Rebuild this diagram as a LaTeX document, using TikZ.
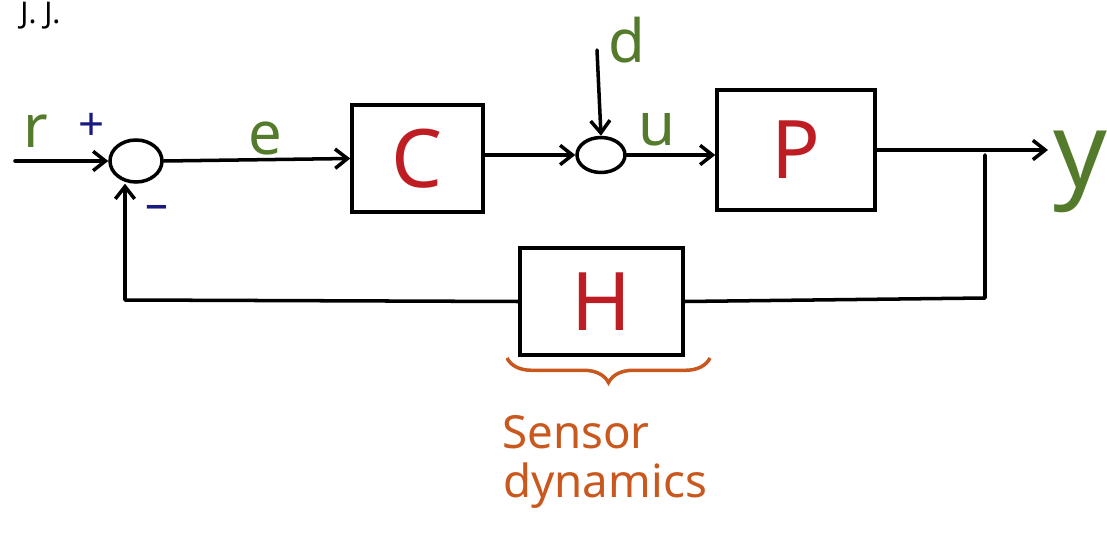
\documentclass[tikz,border=0pt]{standalone}
\usepackage{fontspec}
\setmainfont{Noto Sans}
\usetikzlibrary{arrows.meta,shapes.geometric,decorations.pathreplacing}
\definecolor{hgreen}{RGB}{84,122,44}
\definecolor{hred}{RGB}{190,30,35}
\definecolor{horange}{RGB}{200,88,30}
\definecolor{hblue}{RGB}{25,25,130}
\tikzset{
  wire/.style={line width=2pt,line cap=round,line join=round},
  arr/.style={wire,-{Straight Barb[length=7pt,width=11pt,line width=2pt]}},
  blockbox/.style={draw,line width=2pt,inner sep=0pt},
  sumnode/.style={draw,ellipse,line width=2pt,inner sep=0pt},
  boxlabel/.style={text=hred,font=\fontsize{46}{50}\selectfont},
  siglabel/.style={text=hgreen,font=\fontsize{34}{38}\selectfont},
  signlabel/.style={text=hblue,font=\fontsize{26}{30}\selectfont\bfseries},
  notelabel/.style={text=horange,font=\fontsize{26}{30}\selectfont,anchor=west,inner sep=0pt},
}
\begin{document}
\begin{tikzpicture}[x=0.02cm,y=-0.02cm]
\useasboundingbox (0,0) rectangle (1107,554);
% heading at the top edge
\node[anchor=base west,font=\fontsize{17}{20}\selectfont\bfseries,inner sep=0pt] (head) at (20,24) {J. J.};
% summing junctions
\node[sumnode,minimum width=1.04cm,minimum height=0.84cm] (s1) at (136,161) {};
\node[sumnode,minimum width=0.96cm,minimum height=0.70cm] (s2) at (601,155) {};
% blocks
\node[blockbox,minimum width=2.62cm,minimum height=2.14cm] (C) at (417.5,158.5) {};
\node[blockbox,minimum width=3.16cm,minimum height=2.40cm] (P) at (796,150) {};
\node[blockbox,minimum width=3.26cm,minimum height=2.14cm] (H) at (601.5,301.5) {};
\node[boxlabel] (Cl) at (C.center) {C};
\node[boxlabel] (Pl) at (P.center) {P};
\node[boxlabel] (Hl) at (H.center) {H};
% coordinates
\coordinate (rin) at (15,161);
\coordinate (dtop) at (597,50);
\coordinate (yout) at (1048,150);
\coordinate (tap) at (985,155);
\coordinate (tapd) at (985,298);
\coordinate (fbl) at (125,300);
% connectors
\draw[arr] (rin) -- (s1.west);
\draw[arr] (s1.east) -- (C.west);
\draw[arr] (C.east |- s2.west) -- (s2.west);
\draw[arr] (dtop) -- (s2.north);
\draw[arr] (s2.east) -- (s2.east -| P.west);
\draw[arr] (P.east |- yout) -- (yout);
\draw[wire] (tap) -- (tapd) -- (H.east);
\draw[arr] (H.west) -- (fbl) -- (fbl |- s1.south);
% labels
\node[siglabel] (r) at (36,131) {r};
\node[signlabel] (plus) at (92,127) {+};
\node[signlabel] (minus) at (157,212) {\textendash};
\node[siglabel] (e) at (265,138) {e};
\node[siglabel] (d) at (627,40) {d};
\node[siglabel] (u) at (657,130) {u};
\node[text=hgreen,font=\fontsize{60}{64}\selectfont] (y) at (1080,172) {y};
% brace
\draw[horange,line width=2pt,decorate,decoration={brace,mirror,amplitude=14pt}] (507,358) -- (710,358);
\node[notelabel] (sensor) at (502,432) {Sensor};
\node[notelabel] (dyn) at (503,486) {dynamics};
\end{tikzpicture}
\end{document}
